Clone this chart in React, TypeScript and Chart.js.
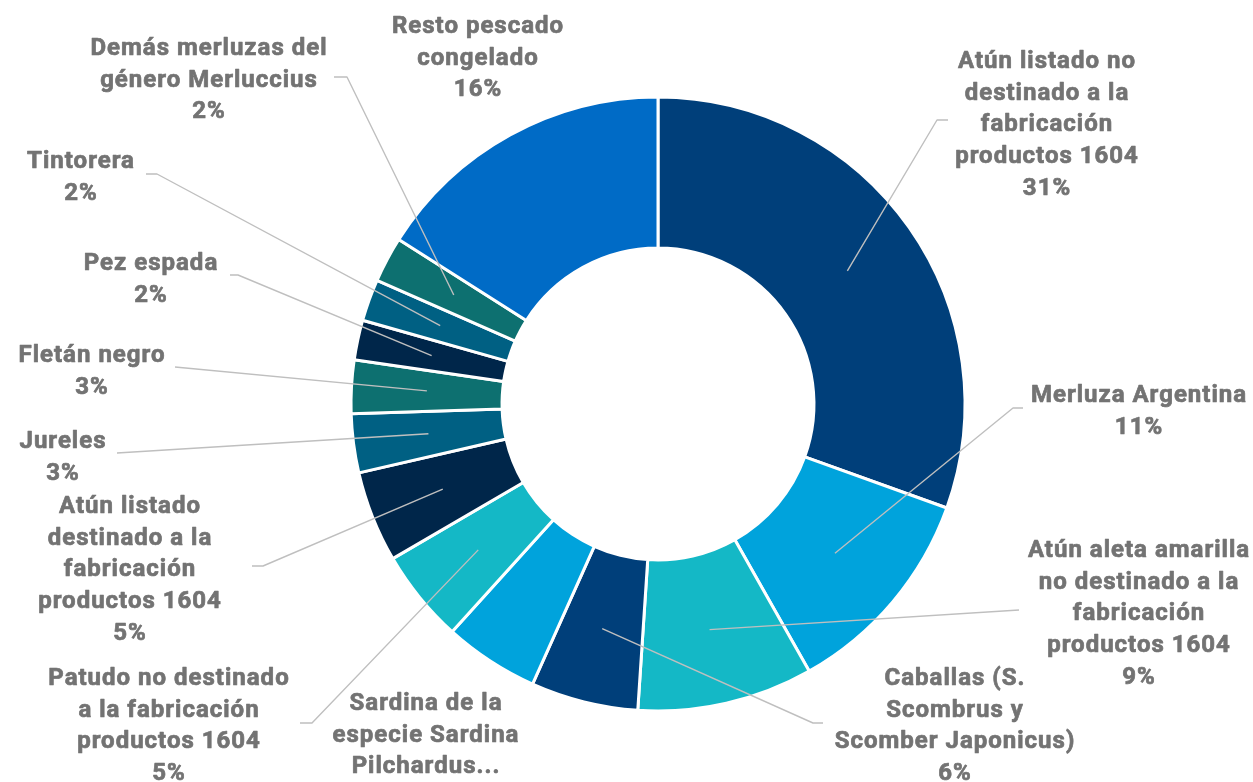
import React, { useEffect, useRef } from "react";
import { Chart, registerables } from "chart.js";

Chart.register(...registerables);

// ---- data ----
const categories = [
  "Atún listado no destinado a la fabricación productos 1604",
  "Merluza Argentina",
  "Atún aleta amarilla no destinado a la fabricación productos 1604",
  "Caballas (S. Scombrus y Scomber Japonicus)",
  "Sardina de la especie Sardina Pilchardus...",
  "Patudo no destinado a la fabricación productos 1604",
  "Atún listado destinado a la fabricación productos 1604",
  "Jureles",
  "Fletán negro",
  "Pez espada",
  "Tintorera",
  "Demás merluzas del género Merluccius",
  "Resto pescado congelado",
];

const values = [30.5, 11.3, 9.25, 5.65, 5.0, 4.9, 4.8, 3.1, 2.8, 2.1, 2.2, 2.4, 16.0];

// wrapped label text as shown on the chart
const labelText = [
  ["Atún listado no", "destinado a la", "fabricación", "productos 1604"],
  ["Merluza Argentina"],
  ["Atún aleta amarilla", "no destinado a la", "fabricación", "productos 1604"],
  ["Caballas (S.", "Scombrus y", "Scomber Japonicus)"],
  ["Sardina de la", "especie Sardina", "Pilchardus..."],
  ["Patudo no destinado", "a la fabricación", "productos 1604"],
  ["Atún listado", "destinado a la", "fabricación", "productos 1604"],
  ["Jureles"],
  ["Fletán negro"],
  ["Pez espada"],
  ["Tintorera"],
  ["Demás merluzas del", "género Merluccius"],
  ["Resto pescado", "congelado"],
];

const showPercent = [true, true, true, true, false, true, true, true, true, true, true, true, true];

// ---- styles ----
const colors = [
  "#003F7A", "#00A3DC", "#14B8C6", "#003F7A", "#00A3DC", "#14B8C6",
  "#00264A", "#006083", "#0D7070", "#00264A", "#006083", "#0D7070", "#006BC6",
];

// ---- label layout (canvas px): text centre x, first baseline y, leader path ----
type Lay = { cx: number; y: number; lead: number[][] | null };
const labelLayout: Lay[] = [
  { cx: 1047, y: 68, lead: [[937, 120], [948, 120]] },
  { cx: 1139, y: 402, lead: [[1013, 408], [1023, 408]] },
  { cx: 1139, y: 557, lead: [[1019, 610]] },
  { cx: 955, y: 685, lead: [[813, 723], [823, 723]] },
  { cx: 426, y: 710, lead: null },
  { cx: 169, y: 685, lead: [[312, 723], [300, 723]] },
  { cx: 130, y: 513, lead: [[263, 566], [252, 566]] },
  { cx: 63, y: 448, lead: [[117, 453]] },
  { cx: 92, y: 362, lead: [[175, 367]] },
  { cx: 151, y: 270, lead: [[238, 275], [230, 275]] },
  { cx: 81, y: 168, lead: [[157, 174], [146, 174]] },
  { cx: 209, y: 55, lead: [[347, 77], [334, 77]] },
  { cx: 478, y: 33, lead: null },
];

const LINE_H = 31.7;
const W = 1253;
const H = 782;

const labelPlugin = {
  id: "outLabels",
  afterDatasetsDraw(chart: any) {
    const ctx = chart.ctx as CanvasRenderingContext2D;
    const meta = chart.getDatasetMeta(0);
    const total = values.reduce((a, b) => a + b, 0);
    ctx.save();
    meta.data.forEach((arc: any, i: number) => {
      const lay = labelLayout[i];
      const p = arc.getProps(["x", "y", "startAngle", "endAngle", "innerRadius", "outerRadius"], true);
      const mid = (p.startAngle + p.endAngle) / 2;
      const r = (p.innerRadius + p.outerRadius) / 2;
      if (lay.lead) {
        ctx.beginPath();
        ctx.moveTo(p.x + Math.cos(mid) * r, p.y + Math.sin(mid) * r);
        lay.lead.forEach((pt) => ctx.lineTo(pt[0], pt[1]));
        ctx.strokeStyle = "#BFBFBF";
        ctx.lineWidth = 1.4;
        ctx.lineJoin = "round";
        ctx.stroke();
      }
    });
    meta.data.forEach((_arc: any, i: number) => {
      const lay = labelLayout[i];
      const lines = [...labelText[i]];
      if (showPercent[i]) lines.push(Math.round((values[i] / total) * 100) + "%");
      ctx.font = "700 24px Roboto";
      (ctx as any).letterSpacing = "1px";
      ctx.fillStyle = "#737373";
      ctx.strokeStyle = "#737373";
      ctx.lineWidth = 0.7;
      ctx.lineJoin = "round";
      ctx.textAlign = "center";
      ctx.textBaseline = "alphabetic";
      lines.forEach((t, k) => {
        ctx.fillText(t, lay.cx, lay.y + k * LINE_H);
        ctx.strokeText(t, lay.cx, lay.y + k * LINE_H);
      });
    });
    ctx.restore();
  },
};

export default function App() {
  const ref = useRef<HTMLCanvasElement | null>(null);
  useEffect(() => {
    if (!ref.current) return;
    const chart = new Chart(ref.current, {
      type: "doughnut",
      data: {
        labels: categories,
        datasets: [
          {
            data: values,
            backgroundColor: colors,
            borderColor: "#FFFFFF",
            borderWidth: 3,
            hoverOffset: 0,
          },
        ],
      },
      options: {
        responsive: false,
        animation: false,
        devicePixelRatio: 1,
        events: [],
        cutout: "50.8%",
        radius: 307,
        layout: { padding: { left: 350, right: 287, top: 97, bottom: 71 } },
        plugins: {
          legend: { display: false },
          tooltip: { enabled: false },
          title: { display: false },
        },
      },
      plugins: [labelPlugin],
    });
    return () => chart.destroy();
  }, []);
  return (
    <div style={{ position: "fixed", left: 0, top: 0, width: W, height: H, background: "#FFFFFF" }}>
      <canvas ref={ref} width={W} height={H} style={{ width: W, height: H, display: "block" }} />
    </div>
  );
}
